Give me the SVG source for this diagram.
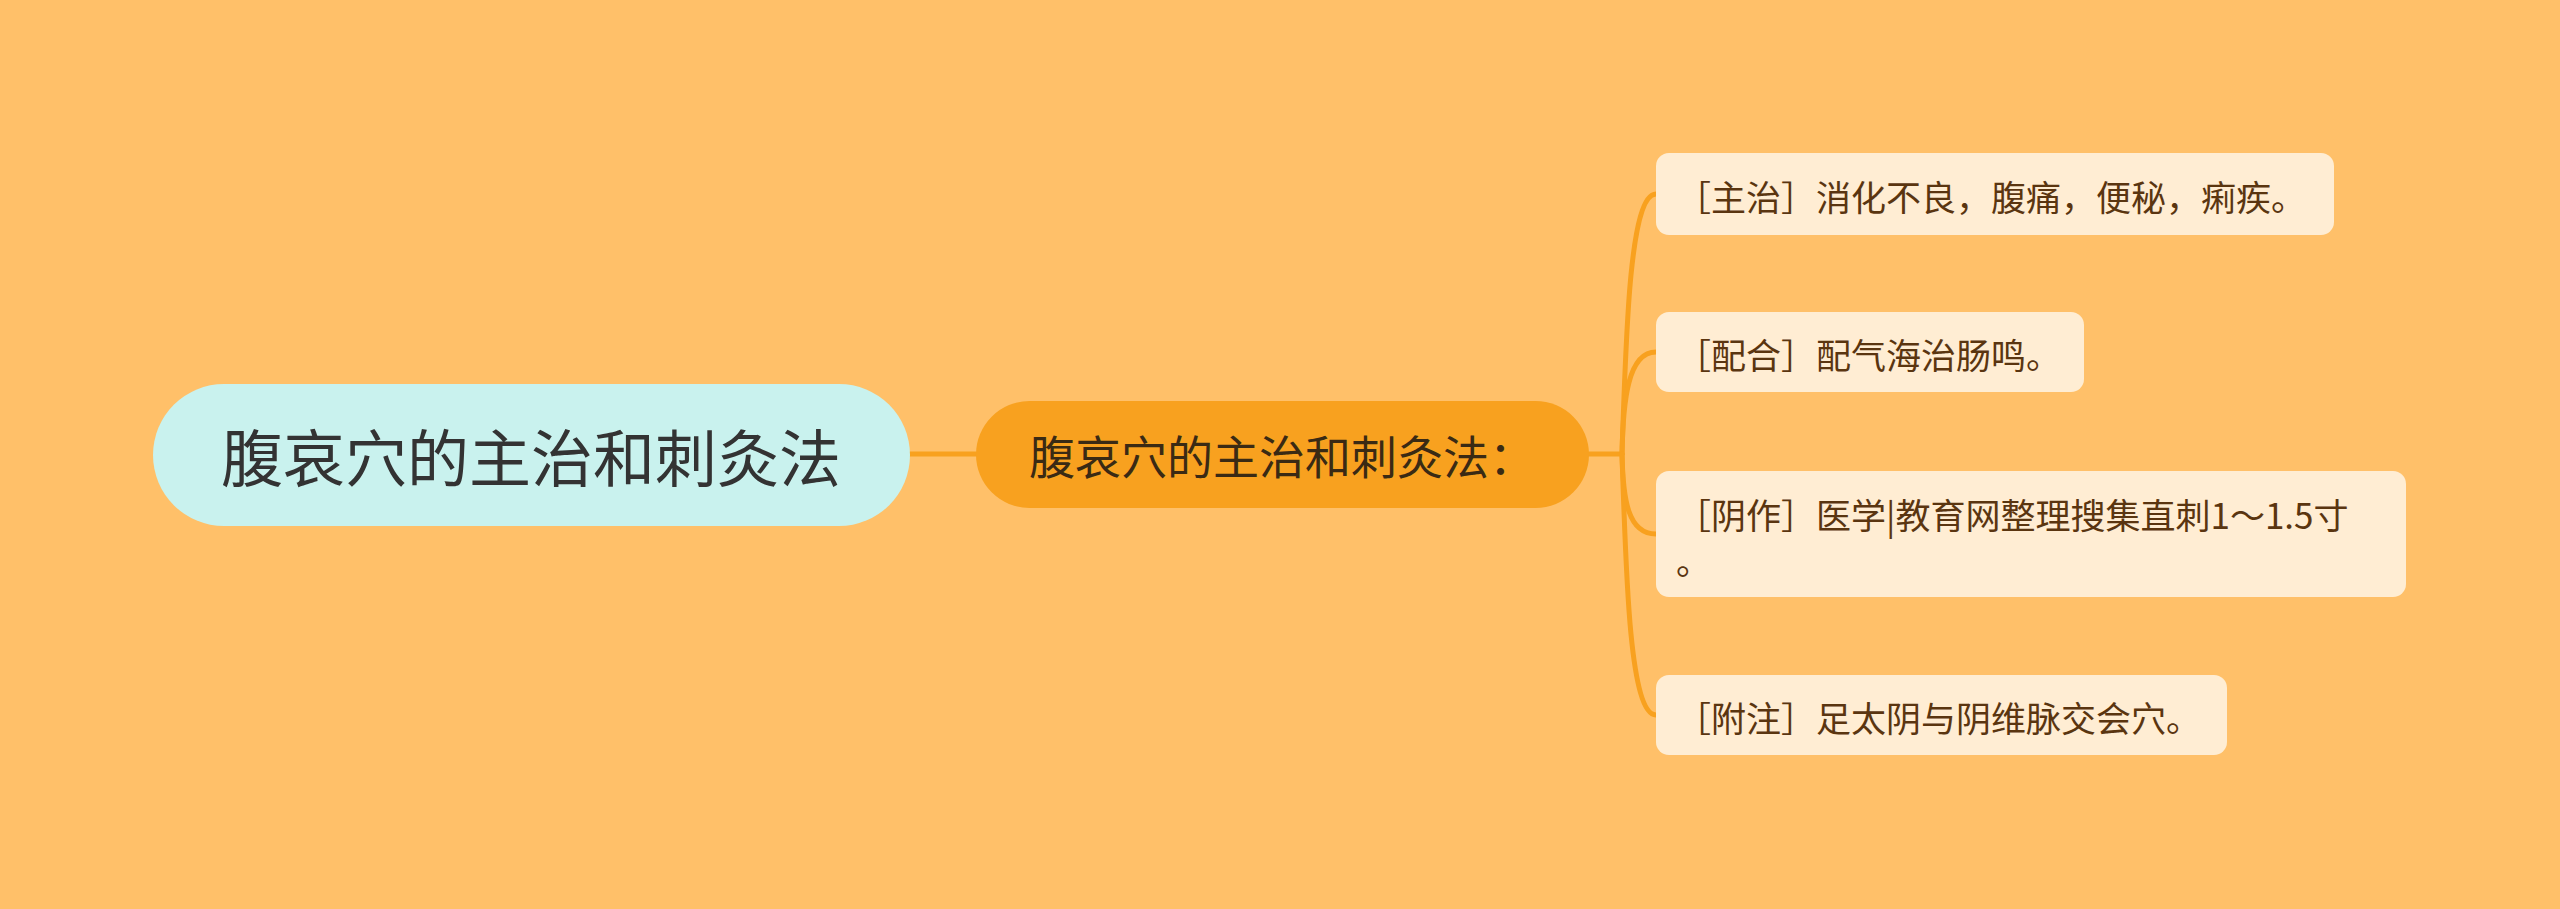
<svg xmlns="http://www.w3.org/2000/svg" width="2560" height="909" viewBox="0 0 2560 909">
<style>
.t{font-family:"Noto Sans CJK SC","Noto Sans",sans-serif;dominant-baseline:central}
.root{fill:#C9F2EE}
.mid{fill:#F8A11F}
.leaf{fill:#FFEDD3}
.lt{font-size:35px;fill:#5A3510}
.c{fill:none;stroke:#F8A11F;stroke-width:5;stroke-linecap:round}
</style>
<rect width="2560" height="909" fill="#FFC069"/>
<g id="connectors">
<path class="c" d="M910 454 L976 454"/>
<path class="c" d="M1589 454 L1622 454"/>
<path class="c" d="M1622 454 C1626 330 1630 194 1656 194"/>
<path class="c" d="M1622 454 C1623 400 1628 352 1656 352"/>
<path class="c" d="M1622 454 C1623 500 1628 534 1656 534"/>
<path class="c" d="M1622 454 C1626 580 1630 715 1656 715"/>
</g>
<g id="root">
<rect class="root" x="153" y="384" width="757" height="142" rx="71"/>
<text class="t" x="531" y="455" text-anchor="middle" font-size="62" fill="#333333">腹哀穴的主治和刺灸法</text>
</g>
<g id="middle">
<rect class="mid" x="976" y="401" width="613" height="107" rx="53.5"/>
<text class="t" x="1282" y="454" text-anchor="middle" font-size="46" fill="#3A2A14">腹哀穴的主治和刺灸法：</text>
</g>
<g id="leaf1">
<rect class="leaf" x="1656" y="153" width="678" height="82" rx="13"/>
<text class="t lt" x="1676" y="195">［主治］消化不良，腹痛，便秘，痢疾。</text>
</g>
<g id="leaf2">
<rect class="leaf" x="1656" y="312" width="428" height="80" rx="13"/>
<text class="t lt" x="1676" y="353">［配合］配气海治肠鸣。</text>
</g>
<g id="leaf3">
<rect class="leaf" x="1656" y="471" width="750" height="126" rx="13"/>
<text class="t lt" x="1676" y="513">［阴作］医学|教育网整理搜集直刺1～1.5寸</text>
<text class="t lt" x="1676" y="559">。</text>
</g>
<g id="leaf4">
<rect class="leaf" x="1656" y="675" width="571" height="80" rx="13"/>
<text class="t lt" x="1676" y="716">［附注］足太阴与阴维脉交会穴。</text>
</g>
</svg>
